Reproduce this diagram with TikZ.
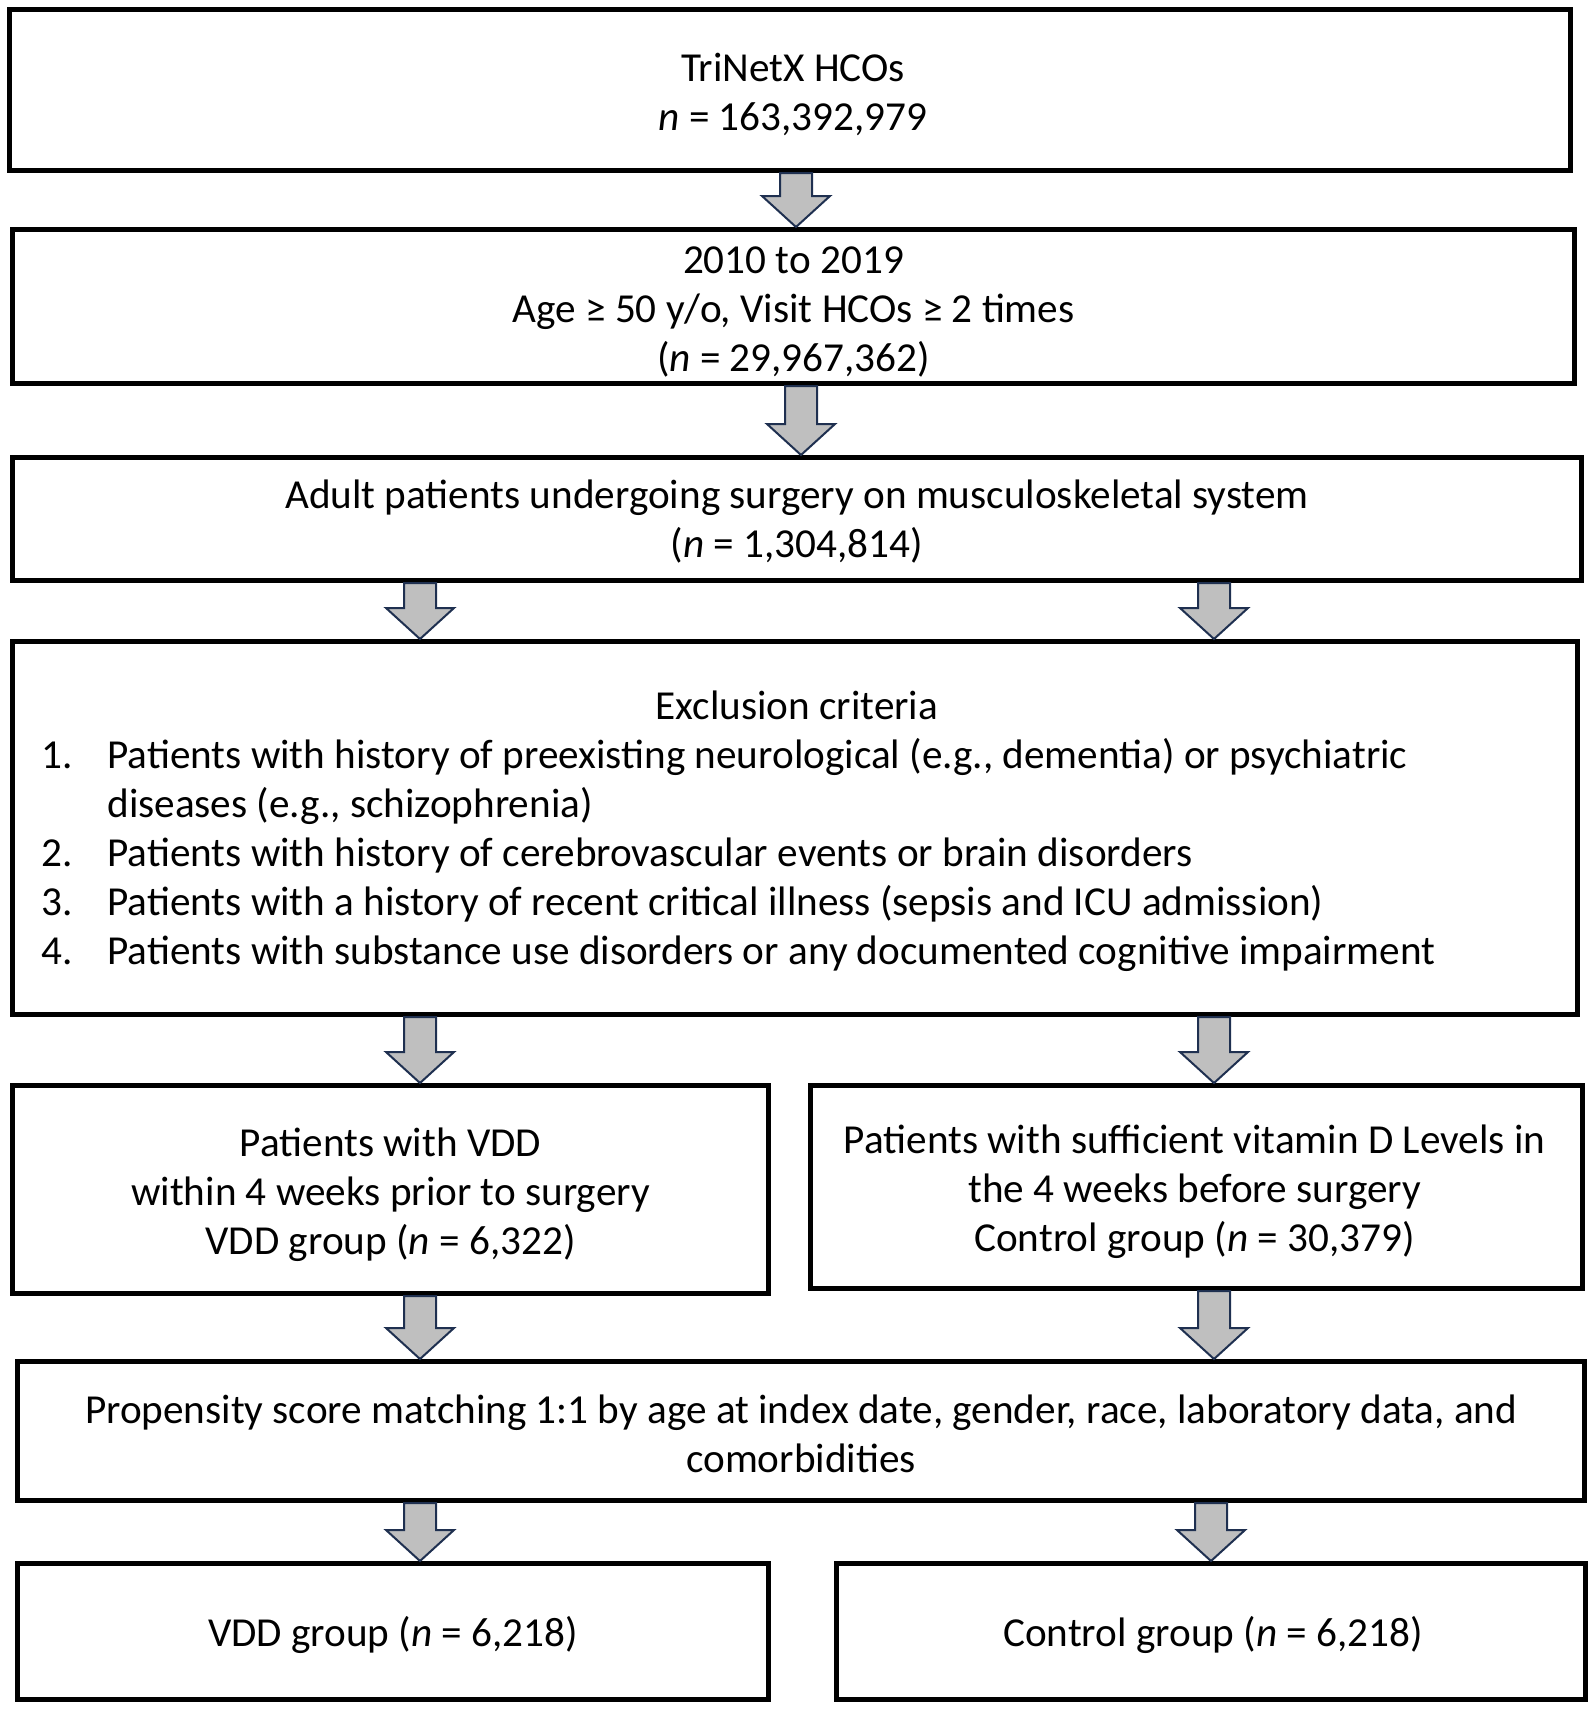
\documentclass[tikz,border=0pt]{standalone}
\usepackage{fontspec}
\setmainfont{Carlito}
\usetikzlibrary{calc}
\definecolor{arrfill}{HTML}{BFBFBF}
\definecolor{arrline}{HTML}{1F3050}
\newcommand{\blockarr}[3]{%
  \draw[barrow] let \p1=(#2.south -| #1), \p2=(#3.north -| #1) in
    (\x1-8pt,\y1) -- (\x1-8pt,\y2+15.5pt) -- (\x1-17pt,\y2+15.5pt) -- (\x1,\y2)
    -- (\x1+17pt,\y2+15.5pt) -- (\x1+8pt,\y2+15.5pt) -- (\x1+8pt,\y1) -- cycle;}
\begin{document}
\begin{tikzpicture}[x=0.5pt,y=-0.5pt,
  box/.style={draw=black,line width=2.5pt,rectangle,inner sep=0pt},
  txt/.style={inner sep=0pt,align=center,font=\fontsize{20.6pt}{24.5pt}\selectfont},
  barrow/.style={draw=arrline,fill=arrfill,line width=1pt,line join=miter}]
\useasboundingbox (0,0) rectangle (1595,1709);
\coordinate (c1) at (796,0);
\coordinate (c2) at (801,0);
\coordinate (cL) at (420,0);
\coordinate (cR) at (1214,0);
\coordinate (cR2) at (1211,0);

\node[box,minimum width=780.5pt,minimum height=80.5pt] (b1) at (790,90) {};
\node[txt] (tb1) at ($(b1.center)+(3,4)$) {TriNetX HCOs\\\textit{n} = 163,392,979};
\node[box,minimum width=781pt,minimum height=77pt] (b2) at (793.5,306.5) {};
\node[txt] (tb2) at ($(b2.center)+(0,5)$) {2010 to 2019\\Age ≥ 50 y/o, Visit HCOs ≥ 2 times\\(\textit{n} = 29,967,362)};
\node[box,minimum width=784.5pt,minimum height=61.5pt] (b3) at (797,519) {};
\node[txt] (tb3) at ($(b3.center)+(0,3)$) {Adult patients undergoing surgery on musculoskeletal system\\(\textit{n} = 1,304,814)};
\node[box,minimum width=782.5pt,minimum height=186.5pt] (b4) at (795,828) {};
\node[txt,anchor=base] (t0) at (797,719) {Exclusion criteria};
\node[txt,anchor=base west] (n1) at (41,768) {1.};
\node[txt,anchor=base west] (t1) at (107,768) {Patients with history of preexisting neurological (e.g., dementia) or psychiatric};
\node[txt,anchor=base west] (t1b) at (107,817) {diseases (e.g., schizophrenia)};
\node[txt,anchor=base west] (n2) at (41,866) {2.};
\node[txt,anchor=base west] (t2) at (107,866) {Patients with history of cerebrovascular events or brain disorders};
\node[txt,anchor=base west] (n3) at (41,915) {3.};
\node[txt,anchor=base west] (t3) at (107,915) {Patients with a history of recent critical illness (sepsis and ICU admission)};
\node[txt,anchor=base west] (n4) at (41,964) {4.};
\node[txt,anchor=base west] (t4) at (107,964) {Patients with substance use disorders or any documented cognitive impairment};

\node[box,minimum width=378pt,minimum height=104pt] (b5L) at (390.5,1189.5) {};
\node[txt] (tb5L) at ($(b5L.center)+(0,5)$) {Patients with VDD\\within 4 weeks prior to surgery\\VDD group (\textit{n} = 6,322)};
\node[box,minimum width=386pt,minimum height=101.5pt] (b5R) at (1196.5,1187) {};
\node[txt] (tb5R) at ($(b5R.center)+(-2,5)$) {Patients with sufficient vitamin D Levels in\\the 4 weeks before surgery\\Control group (\textit{n} = 30,379)};
\node[box,minimum width=783.5pt,minimum height=69.5pt] (b6) at (801,1431) {};
\node[txt] (tb6) at ($(b6.center)+(0,3)$) {Propensity score matching 1:1 by age at index date, gender, race, laboratory data, and\\comorbidities};
\node[box,minimum width=375.5pt,minimum height=68pt] (b7L) at (393,1631.5) {};
\node[txt] (tb7L) at ($(b7L.center)+(0,3)$) {VDD group (\textit{n} = 6,218)};
\node[box,minimum width=374.5pt,minimum height=68pt] (b7R) at (1211,1631.5) {};
\node[txt] (tb7R) at ($(b7R.center)+(2,3)$) {Control group (\textit{n} = 6,218)};

\blockarr{c1}{b1}{b2}
\blockarr{c2}{b2}{b3}
\blockarr{cL}{b3}{b4}
\blockarr{cR}{b3}{b4}
\blockarr{cL}{b4}{b5L}
\blockarr{cR}{b4}{b5R}
\blockarr{cL}{b5L}{b6}
\blockarr{cR}{b5R}{b6}
\blockarr{cL}{b6}{b7L}
\blockarr{cR2}{b6}{b7R}
\end{tikzpicture}
\end{document}
